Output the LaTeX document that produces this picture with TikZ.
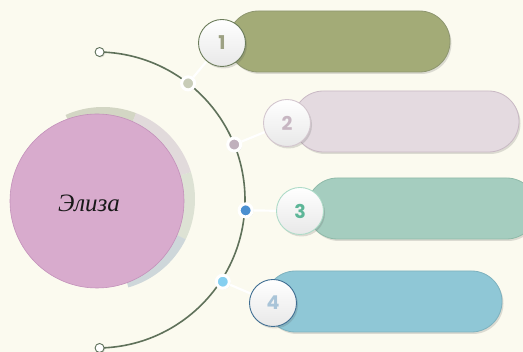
\documentclass[tikz,border=0pt]{standalone}
\usepackage{fontspec}
\newfontfamily\numfont{Poppins}
\newfontfamily\namefont{Liberation Serif}
\usetikzlibrary{shadows,calc}
\definecolor{bgc}{HTML}{FBFAEF}
\definecolor{bigc}{HTML}{D8ABCD}
\definecolor{bigb}{HTML}{C391BA}
\definecolor{arcc}{HTML}{5F715A}
\definecolor{pA}{HTML}{A3AB77}\definecolor{pAb}{HTML}{8E9670}
\definecolor{pB}{HTML}{E4DAE0}\definecolor{pBb}{HTML}{C9B9C4}
\definecolor{pC}{HTML}{A5CDBF}\definecolor{pCb}{HTML}{8FBAA9}
\definecolor{pD}{HTML}{8FC7D6}\definecolor{pDb}{HTML}{7EB2BF}
\definecolor{nA}{HTML}{6B7C5A}\definecolor{tA}{HTML}{9DA183}
\definecolor{nB}{HTML}{D3C6CE}\definecolor{tB}{HTML}{C7B6C2}
\definecolor{nC}{HTML}{AEDBC8}\definecolor{tC}{HTML}{5DB698}
\definecolor{nD}{HTML}{3F6E92}\definecolor{tD}{HTML}{A9C4D8}
\definecolor{dA}{HTML}{C8CCB8}\definecolor{dB}{HTML}{C0B0BC}
\definecolor{dC}{HTML}{4A8FD0}\definecolor{dD}{HTML}{85CFF0}
\definecolor{rA}{HTML}{C6CAB6}\definecolor{rB}{HTML}{D9D0D5}
\definecolor{rC}{HTML}{D3DBCC}\definecolor{rD}{HTML}{C0CCD4}
\pgfdeclarelayer{back}\pgfdeclarelayer{links}
\pgfsetlayers{back,links,main}
\tikzset{
  softshadow/.style={drop shadow={shadow xshift=1.5pt,shadow yshift=-2pt,opacity=0.18,fill=black!70}},
  pill/.style={rectangle,rounded corners=30.5pt,minimum height=61pt,line width=0.8pt,softshadow},
  numc/.style={circle,minimum size=47pt,inner sep=0pt,line width=0.9pt,top color=white,bottom color=black!9,softshadow,font=\numfont\bfseries\fontsize{19}{19}\selectfont},
  dot/.style={circle,minimum size=13pt,inner sep=0pt,draw=white,line width=3pt,drop shadow={shadow xshift=1pt,shadow yshift=-1pt,opacity=0.25,fill=black!70}},
  endpt/.style={circle,minimum size=9pt,inner sep=0pt,fill=white,draw=arcc,line width=0.9pt,drop shadow={shadow xshift=1pt,shadow yshift=-1pt,opacity=0.2,fill=black!70}},
  conn/.style={draw=white,line width=2.2pt},
}
\begin{document}
\begin{tikzpicture}[x=1pt,y=1pt]
\useasboundingbox (0,0) rectangle (523,352);
\begin{pgfonlayer}{back}
\fill[bgc] (0,0) rectangle (523,352);
\end{pgfonlayer}
\coordinate (rc) at (103,153);
\coordinate (c) at (97,152);
% ring segments behind big circle
\fill[rA,opacity=0.75] (rc) -- ++(114:92) arc[start angle=114,end angle=69,radius=92] -- cycle;
\fill[rB,opacity=0.75] (rc) -- ++(69:92) arc[start angle=69,end angle=17,radius=92] -- cycle;
\fill[rC,opacity=0.75] (rc) -- ++(17:92) arc[start angle=17,end angle=-26,radius=92] -- cycle;
\fill[rD,opacity=0.75] (rc) -- ++(-26:92) arc[start angle=-26,end angle=-74,radius=92] -- cycle;
% big circle
\node[circle,minimum size=174pt,inner sep=0pt,fill=bigc,draw=bigb,line width=0.6pt] (big) at (97,151) {};
\node[font=\namefont\itshape\fontsize{25}{25}\selectfont,text=black!90] (name) at (89,149) {Элиза};
% arc
\draw[arcc,line width=1.6pt] (c) ++(89:148) arc[start angle=89,end angle=-89,radius=148];
\path (c) ++(89:148) node[endpt] (e1) {};
\path (c) ++(-89:148) node[endpt] (e2) {};
% pills
\node[pill,fill=pA,draw=pAb,minimum width=222pt] (p1) at (339,310.5) {};
\node[pill,fill=pB,draw=pBb,minimum width=226pt] (p2) at (406,230.5) {};
\node[pill,fill=pC,draw=pCb,minimum width=230pt] (p3) at (422,143.5) {};
\node[pill,fill=pD,draw=pDb,minimum width=237pt] (p4) at (383.5,50.5) {};
% number circles
\node[numc,draw=nA,text=tA] (n1) at (222,309) {1};
\node[numc,draw=nB,text=tB] (n2) at (287,229) {2};
\node[numc,draw=nC,text=tC] (n3) at (300,141) {3};
\node[numc,draw=nD,text=tD] (n4) at (273,49) {4};
% dots on arc
\path (c) ++(52:148) node[dot,fill=dA] (d1) {};
\path (c) ++(22:148) node[dot,fill=dB] (d2) {};
\path (c) ++(-4:149) node[dot,fill=dC] (d3) {};
\path (c) ++(-33:150) node[dot,fill=dD] (d4) {};
\begin{pgfonlayer}{links}
\draw[conn] (d1) -- (n1);
\draw[conn] (d2) -- (n2);
\draw[conn] (d3) -- (n3);
\draw[conn] (d4) -- (n4);
\end{pgfonlayer}
\end{tikzpicture}
\end{document}
